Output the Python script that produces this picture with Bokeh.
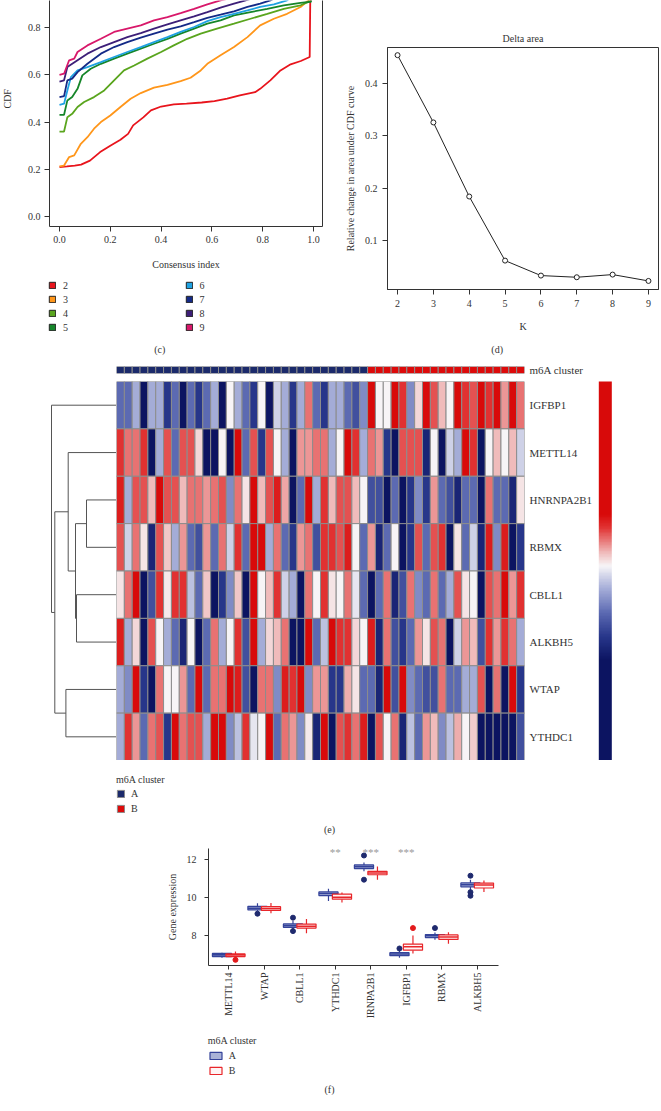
import math
from bokeh.plotting import figure
from bokeh.models import (Range1d, FactorRange, FixedTicker, PrintfTickFormatter, LinearAxis,
                          Legend, LegendItem, Label, ColorBar, LinearColorMapper, ColumnDataSource)
from bokeh.layouts import row, column
from bokeh.embed import file_html
from bokeh.resources import INLINE
from bokeh.core.properties import value

FONT = "Liberation Serif"
TXT = "#333333"
NAN = float("nan")

# ---------------- (c) consensus CDF ----------------
cdf_k = [2, 3, 4, 5, 6, 7, 8, 9]
cdf_colors = ["#e8141c", "#ff961a", "#5aa51e", "#16862a", "#1fa2e2", "#142a87", "#3d1f78", "#d8186a"]
cdf_x_k2 = [0.0, 0.03, 0.06, 0.085, 0.12, 0.16, 0.2, 0.24, 0.27, 0.29, 0.33, 0.36, 0.4, 0.45, 0.5, 0.56, 0.61, 0.66, 0.71, 0.77, 0.79, 0.83, 0.87, 0.91, 0.95, 0.985, 0.988, 1.0]
cdf_y_k2 = [0.209, 0.212, 0.216, 0.22, 0.237, 0.273, 0.30, 0.325, 0.35, 0.386, 0.42, 0.45, 0.466, 0.475, 0.478, 0.483, 0.489, 0.499, 0.513, 0.527, 0.541, 0.577, 0.619, 0.645, 0.659, 0.676, 1.0, 1.0]
cdf_x_k3 = [0.0, 0.018, 0.038, 0.058, 0.084, 0.11, 0.136, 0.163, 0.2, 0.24, 0.28, 0.32, 0.372, 0.425, 0.477, 0.516, 0.556, 0.582, 0.634, 0.687, 0.74, 0.79, 0.844, 0.896, 0.949, 0.98, 1.0]
cdf_y_k3 = [0.212, 0.216, 0.252, 0.259, 0.308, 0.336, 0.372, 0.40, 0.428, 0.464, 0.499, 0.523, 0.546, 0.558, 0.574, 0.588, 0.619, 0.647, 0.683, 0.718, 0.76, 0.81, 0.838, 0.859, 0.888, 0.916, 1.0]
cdf_x_k4 = [0.0, 0.018, 0.031, 0.05, 0.071, 0.097, 0.136, 0.176, 0.215, 0.254, 0.294, 0.346, 0.4, 0.45, 0.503, 0.556, 0.62, 0.687, 0.752, 0.818, 0.883, 0.949, 0.98, 1.0]
cdf_y_k4 = [0.36, 0.36, 0.421, 0.435, 0.464, 0.485, 0.506, 0.534, 0.577, 0.619, 0.64, 0.669, 0.697, 0.725, 0.753, 0.775, 0.796, 0.817, 0.838, 0.859, 0.88, 0.895, 0.909, 1.0]
cdf_x_k5 = [0.0, 0.018, 0.031, 0.05, 0.071, 0.09, 0.123, 0.163, 0.215, 0.267, 0.32, 0.372, 0.425, 0.477, 0.53, 0.582, 0.634, 0.687, 0.752, 0.818, 0.883, 0.949, 0.99, 1.0]
cdf_y_k5 = [0.431, 0.431, 0.492, 0.506, 0.541, 0.598, 0.626, 0.647, 0.669, 0.69, 0.711, 0.732, 0.753, 0.775, 0.796, 0.817, 0.831, 0.852, 0.866, 0.88, 0.895, 0.905, 0.91, 1.0]
cdf_x_k6 = [0.0, 0.018, 0.031, 0.045, 0.071, 0.11, 0.163, 0.215, 0.267, 0.32, 0.372, 0.425, 0.477, 0.53, 0.582, 0.634, 0.687, 0.74, 0.79, 0.844, 0.896, 1.0]
cdf_y_k6 = [0.473, 0.478, 0.534, 0.591, 0.619, 0.633, 0.654, 0.676, 0.697, 0.718, 0.739, 0.76, 0.782, 0.803, 0.828, 0.845, 0.859, 0.873, 0.888, 0.899, 0.916, 1.0]
cdf_x_k7 = [0.0, 0.018, 0.031, 0.05, 0.071, 0.11, 0.163, 0.215, 0.267, 0.32, 0.372, 0.425, 0.477, 0.53, 0.582, 0.634, 0.687, 0.74, 0.79, 0.83, 1.0]
cdf_y_k7 = [0.506, 0.51, 0.577, 0.584, 0.612, 0.647, 0.69, 0.718, 0.739, 0.758, 0.775, 0.792, 0.806, 0.824, 0.842, 0.855, 0.869, 0.888, 0.902, 0.916, 1.0]
cdf_x_k8 = [0.0, 0.018, 0.031, 0.071, 0.11, 0.163, 0.215, 0.267, 0.32, 0.372, 0.425, 0.477, 0.53, 0.582, 0.634, 0.687, 0.733, 1.0]
cdf_y_k8 = [0.572, 0.577, 0.633, 0.662, 0.69, 0.718, 0.739, 0.76, 0.777, 0.796, 0.814, 0.831, 0.848, 0.866, 0.885, 0.902, 0.916, 1.0]
cdf_x_k9 = [0.0, 0.018, 0.038, 0.058, 0.071, 0.11, 0.163, 0.215, 0.267, 0.32, 0.372, 0.425, 0.477, 0.53, 0.582, 0.634, 1.0]
cdf_y_k9 = [0.6, 0.605, 0.662, 0.669, 0.697, 0.725, 0.753, 0.782, 0.796, 0.81, 0.831, 0.845, 0.862, 0.88, 0.899, 0.916, 1.0]
cdf_xs = [cdf_x_k2, cdf_x_k3, cdf_x_k4, cdf_x_k5, cdf_x_k6, cdf_x_k7, cdf_x_k8, cdf_x_k9]
cdf_ys = [cdf_y_k2, cdf_y_k3, cdf_y_k4, cdf_y_k5, cdf_y_k6, cdf_y_k7, cdf_y_k8, cdf_y_k9]
cdf_xticks = [0.0, 0.2, 0.4, 0.6, 0.8, 1.0]
cdf_yticks = [0.0, 0.2, 0.4, 0.6, 0.8]

# ---------------- (d) delta area ----------------
delta_k = [2, 3, 4, 5, 6, 7, 8, 9]
delta_val = [0.453, 0.325, 0.184, 0.062, 0.0335, 0.0303, 0.0354, 0.0233]
delta_yticks = [0.1, 0.2, 0.3, 0.4]

# ---------------- (e) heatmap ----------------
heat_genes = ["IGFBP1", "METTL14", "HNRNPA2B1", "RBMX", "CBLL1", "ALKBH5", "WTAP", "YTHDC1"]
n_cluster_A = 32
n_cluster_B = 20
hm_IGFBP1 = [-2, -2, -1, -4, -1, -1, -3, -2, -4, -2, -3, -2, -1, -4, 0, -1, -2, -3, 0, -4, -0.5, -1, -3, -1, 2, -2,
             -3, -1, -1, -2, -2.5, -1.5, 4, 0, 0, 4, 3, -1.5, 0.5, 4, 2.5, 1, 0, 4, 3, 2.5, 4, 3, 4, 1.5, 4, 2]
hm_METTL14 = [3, 2, 2, 3, -4, -1, 2.5, -2, 2.5, 2.5, 0.5, -4, -4, 0, -4, 4, -2, 2.5, -3, 2.5, 0, -1, -4, 1.5, 1.5, 2,
              2, -1, 0, 4, 3, -1, 2, 1.5, -3, -4, 2.5, 2.5, 2.5, -3.5, 0, -4, -0.5, -1, 4, 3, -4, 0, 1, 0, 1, -0.5]
hm_HNRNPA2B1 = [3.5, -1, 2.5, 2.5, 1, 4, 2.5, 2.5, 1, 2, 2, 1.5, 2, 2.5, -1.5, 2, 0.3, 4, 1, 2.5, 3.5, 1.3, -4, -2, 4, -1,
                3, 1, 2.5, 2.5, 1, 0, -2.5, -2.5, -4, -2, -4, -3, -1.5, -3, 1.5, -2, -2.5, -3.5, -2, -2, -4, 2, -2, -2, -3.5, 0.3]
hm_RBMX = [2.5, -0.5, 2, 0.3, -3.5, 2.5, 0.8, -1, 1.5, -2, -2.5, 1.5, -2, 2, -0.5, 3, -2, 4, 4, -1, 2, -2, -3, 1.5, 2, -2.5,
           3, 3, 2.5, 3.5, 0, -2, 1.5, -3.5, -2, 0, -4, -3, 2.5, -2, 2.5, 3, -4, 0.3, -2, -0.5, -3.5, 3.5, -1.5, 3.5, -4, -3]
hm_CBLL1 = [0.3, 2, 4, -4, -2.5, 3, 0.2, 3, 3, -0.7, -2, 0.8, -4, -3, -1.5, 0.8, -4, 4, 0, 1, 3, -0.5, -1, -4, 2, 0,
            3, 0.3, 0, 2, -0.2, -2, -4, -2, 2, -3.5, -2.5, 2, -1.5, -2, 2, -2, -1, 2.5, 0.3, 0, -4, 2.5, 2, 4, 1.5, 3]
hm_ALKBH5 = [3.5, -1, 0.5, -4, 2.5, 0, -1, -2, -3.5, 0, -4, -2, 2, -1, 0, 3, -2.5, 4, -1, 0.5, 1, 2, -4, -4, 4, -2,
             -0.7, 4, 3, 3, 0.5, 0, 3.5, -3.5, 2, -2.5, -3, -2, 1.5, 0.3, 2.5, 2, -4, -0.5, 1.5, 1, -2.5, 3, 1.5, 3, 2, -1]
hm_WTAP = [-1, -1.5, 4, -3, -4, 2, 0, 0, 1.5, -2, 4, -2, 2, 2, 4, 3.5, -2.5, -4, 2, 2, -1.5, 3.5, 3, 4, -1.5, 1.5,
           1.5, -3, -3, 1.2, 0.3, -2, -2, -3.5, 4, -2.5, 4, -1.5, -2, -2.5, -2.5, 2, -2, -2, -1, -1, 2.5, -4, 2, -4, 4, -3]
hm_YTHDC1 = [-1, 3, 1.5, -2, 2, 2.5, -3, 4, 2, 2.5, 2.5, -1, 4, 4, -1.5, -0.7, 3, -0.2, 0, 4, -2, 2, 1.5, -1.5, 0.2, -3.5,
             4, -4, 2.5, 3, 2, 3.5, -4, 2.5, 0, 2, -3.5, -0.7, -2, 1.5, 1, -1.5, -0.7, 1.2, 0, 0.7, -4, -4, -4, -4, -4, -2.5]
heat_rows = [hm_IGFBP1, hm_METTL14, hm_HNRNPA2B1, hm_RBMX, hm_CBLL1, hm_ALKBH5, hm_WTAP, hm_YTHDC1]

# dendrogram (merge order; children are leaves or earlier merges "m<i>")
dend_left = ["HNRNPA2B1", "CBLL1", "m0", "METTL14", "WTAP", "m3", "IGFBP1"]
dend_right = ["RBMX", "ALKBH5", "m1", "m2", "YTHDC1", "m4", "m5"]
dend_height = [3.0, 4.0, 4.1, 4.83, 5.06, 6.17, 6.5]

# ---------------- (f) boxplot ----------------
box_genes = ["METTL14", "WTAP", "CBLL1", "YTHDC1", "IRNPA2B1", "IGFBP1", "RBMX", "ALKBH5"]
A_q1 = [6.86, 9.33, 8.41, 10.09, 11.52, 6.91, 7.87, 10.55]
A_med = [6.95, 9.42, 8.50, 10.20, 11.62, 7.00, 7.96, 10.66]
A_q3 = [7.03, 9.52, 8.59, 10.28, 11.71, 7.07, 8.03, 10.76]
A_lo = [6.80, 9.25, 8.30, 9.80, 11.38, 6.80, 7.75, 10.37]
A_hi = [7.07, 9.68, 8.75, 10.45, 11.84, 7.19, 8.14, 10.93]
A_out_gene = ["WTAP", "CBLL1", "CBLL1", "IRNPA2B1", "IRNPA2B1", "IGFBP1", "RBMX", "ALKBH5", "ALKBH5", "ALKBH5"]
A_out_val = [9.13, 8.92, 8.21, 12.21, 10.93, 7.29, 8.37, 11.14, 10.27, 10.08]
B_q1 = [6.86, 9.30, 8.37, 9.90, 11.19, 7.20, 7.77, 10.49]
B_med = [6.95, 9.40, 8.47, 10.00, 11.28, 7.38, 7.90, 10.65]
B_q3 = [7.00, 9.50, 8.58, 10.17, 11.37, 7.52, 8.01, 10.75]
B_lo = [6.78, 9.16, 8.10, 9.72, 10.93, 7.02, 7.54, 10.28]
B_hi = [7.13, 9.70, 8.85, 10.25, 11.63, 7.98, 8.15, 10.89]
B_out_gene = ["METTL14", "IGFBP1"]
B_out_val = [6.69, 8.37]
box_sig = ["", "", "", "**", "***", "***", "", ""]
box_yticks = [8, 10, 12]


# ================= helpers =================
def style_axis(ax, size="10px", tick_out=5, standoff=4):
    ax.major_label_text_font = FONT
    ax.major_label_text_font_size = size
    ax.major_label_text_color = TXT
    ax.axis_label_text_font = FONT
    ax.axis_label_text_font_size = size
    ax.axis_label_text_font_style = "normal"
    ax.axis_label_text_color = TXT
    ax.axis_line_color = TXT
    ax.major_tick_line_color = TXT
    ax.minor_tick_line_color = None
    ax.major_tick_out = tick_out
    ax.major_tick_in = 0
    ax.major_label_standoff = standoff


def make_fig(**kw):
    p = figure(output_backend="svg", toolbar_location=None, **kw)
    p.grid.visible = False
    p.outline_line_color = None
    p.background_fill_color = "white"
    p.border_fill_color = "white"
    try:
        p.frame_align = False
    except Exception:
        pass
    return p


def text_fig(x0, x1, y0, y1):
    """Blank panel whose frame covers the region x0..x1, y0..y1 of the figure (y downwards)."""
    return make_fig(width=int(round(x1 - x0)), height=int(round(y1 - y0)),
                    x_range=Range1d(x0, x1), y_range=Range1d(y1, y0),
                    min_border_left=0, min_border_right=0, min_border_top=0, min_border_bottom=0,
                    x_axis_location=None, y_axis_location=None, title=None)


def add_text(p, text, x, y, angle=0.0, size="10px", color=TXT):
    p.add_layout(Label(x=x, y=y, text=text, angle=angle,
                       text_font=FONT, text_font_size=size, text_color=color,
                       text_align="center", text_baseline="middle"))


def key(p, fill, line, lw=1.0):
    # legend key renderer (one undefined row: nothing drawn in the panel itself)
    return p.quad(left=[NAN], right=[NAN], top=[NAN], bottom=[NAN], fill_color=fill, line_color=line, line_width=lw)


def hex_rgb(h):
    h = h.lstrip("#")
    return tuple(int(h[i:i + 2], 16) for i in (0, 2, 4))


def lerp_color(levels, colors, v):
    if v <= levels[0]:
        return colors[0]
    if v >= levels[-1]:
        return colors[-1]
    for i in range(len(levels) - 1):
        if levels[i] <= v <= levels[i + 1]:
            f = (v - levels[i]) / (levels[i + 1] - levels[i])
            a, b = hex_rgb(colors[i]), hex_rgb(colors[i + 1])
            return "#%02x%02x%02x" % tuple(int(round(a[j] + (b[j] - a[j]) * f)) for j in range(3))


def style_legend(lg, size="10px"):
    lg.label_text_font = FONT
    lg.label_text_font_size = size
    lg.label_text_color = TXT
    lg.title_text_font = FONT
    lg.title_text_font_size = size
    lg.title_text_font_style = "normal"
    lg.title_text_color = TXT
    lg.border_line_color = None
    lg.background_fill_alpha = 0
    lg.padding = 0
    lg.margin = 0


# ================= (c) CDF =================
pA = make_fig(width=316, height=274, x_range=Range1d(-0.0393, 1.0354), y_range=Range1d(-0.0424, 0.9153),
              min_border_left=35, min_border_right=8, min_border_top=0, min_border_bottom=48)
for ax in pA.axis:
    style_axis(ax)
pA.xaxis.ticker = FixedTicker(ticks=cdf_xticks)
pA.yaxis.ticker = FixedTicker(ticks=cdf_yticks)
pA.xaxis.formatter = PrintfTickFormatter(format="%.1f")
pA.yaxis.formatter = PrintfTickFormatter(format="%.1f")
pA.xaxis.major_label_standoff = 4
pA.xaxis.axis_label = "Consensus index"
pA.xaxis.axis_label_standoff = 13
right_ax = LinearAxis(ticker=FixedTicker(ticks=[]), axis_line_color=TXT, major_tick_line_color=None,
                      minor_tick_line_color=None, major_label_text_font_size="0px")
pA.add_layout(right_ax, "right")
for xs, ys, col in zip(cdf_xs, cdf_ys, cdf_colors):
    pA.line(xs, ys, line_color=col, line_width=1.8)

# strip holding the y-axis title of (c)
pStrip = text_fig(0, 14, 0, 357)
add_text(pStrip, "CDF", 6.7, 98.3, angle=math.pi / 2)

# legend + panel letter below (c)
pAL = text_fig(14, 330, 274, 357)
swatch = [key(pAL, col, "#222222") for col in cdf_colors]
for half, vx in ((0, 33.9), (1, 170.5)):
    items = [LegendItem(label=str(cdf_k[i]), renderers=[swatch[i]]) for i in range(half * 4, half * 4 + 4)]
    lg = Legend(items=items, location=(vx, 24.2), orientation="vertical",
                glyph_width=8, glyph_height=8, label_height=8, label_width=10,
                label_standoff=7, spacing=3)
    style_legend(lg)
    pAL.add_layout(lg)
add_text(pAL, "(c)", 159.3, 349.3)

# ================= (d) Delta area =================
pB = make_fig(width=330, height=337, x_range=Range1d(1.72, 9.28), y_range=Range1d(0.007, 0.4676),
              min_border_left=57, min_border_right=2, min_border_top=47, min_border_bottom=48,
              title="Delta area")
pB.outline_line_color = TXT
pB.title.align = "center"
pB.title.text_font = FONT
pB.title.text_font_size = "10px"
pB.title.text_font_style = "normal"
pB.title.text_color = TXT
pB.title.standoff = 7
for ax in pB.axis:
    style_axis(ax, standoff=5)
pB.xaxis.ticker = FixedTicker(ticks=delta_k)
pB.yaxis.ticker = FixedTicker(ticks=delta_yticks)
pB.yaxis.formatter = PrintfTickFormatter(format="%.1f")
pB.xaxis.axis_label = "K"
pB.xaxis.axis_label_standoff = 11
pB.yaxis.axis_label = "Relative change in area under CDF curve"
pB.yaxis.axis_label_standoff = 6
pB.line(delta_k, delta_val, line_color="#222222", line_width=1)
pB.scatter(delta_k, delta_val, marker="circle", size=5, fill_color="white", line_color="#222222", line_width=1)

pBL = text_fig(330, 660, 337, 357)
add_text(pBL, "(d)", 496.7, 349.3)

# ================= (e) heatmap =================
n_cols = n_cluster_A + n_cluster_B
sample_cluster = ["A"] * n_cluster_A + ["B"] * n_cluster_B
cluster_color = {"A": "#1b2a6b", "B": "#dd0a0a"}

anchor_levels = [-4, -3, -2, -1, 0, 1, 2, 3, 4]
anchor_colors = ["#0c1461", "#27368a", "#5b69b2", "#a3abd7", "#f7f5f7", "#f0bcbc", "#e87474", "#e13232", "#d80a0a"]
heat_palette = [lerp_color(anchor_levels, anchor_colors, -4 + 8 * i / 255) for i in range(256)]
heat_mapper = LinearColorMapper(palette=heat_palette, low=-4, high=4)


def cbar_level(t):
    if t < 0.263:
        return -4
    if t < 0.514:
        return -4 + 4 * (t - 0.263) / (0.514 - 0.263)
    if t < 0.65:
        return 4 * (t - 0.514) / (0.65 - 0.514)
    return 4


cbar_palette = [lerp_color(anchor_levels, anchor_colors, cbar_level(i / 255)) for i in range(256)]
cbar_mapper = LinearColorMapper(palette=cbar_palette, low=0, high=1)

shared_x = Range1d(0, n_cols)

pAn = make_fig(width=537, height=20, x_range=shared_x, y_range=FactorRange(factors=["m6A cluster"]),
               min_border_left=0, min_border_right=129, min_border_top=9, min_border_bottom=4,
               x_axis_location=None, y_axis_location="right")
style_axis(pAn.yaxis[0], size="11px", tick_out=0, standoff=5)
pAn.yaxis.axis_line_color = None
pAn.yaxis.major_tick_line_color = None
pAn.rect(x=[i + 0.5 for i in range(n_cols)], y=["m6A cluster"] * n_cols, width=1, height=1,
         fill_color=[cluster_color[c] for c in sample_cluster], line_color="#8c8c8c", line_width=1)

hx, hy, hv = [], [], []
for g, vals in zip(heat_genes, heat_rows):
    for i, v in enumerate(vals):
        hx.append(i + 0.5)
        hy.append(g)
        hv.append(v)
heat_src = ColumnDataSource(dict(x=hx, gene=hy, v=hv))

pH = make_fig(width=537, height=383, x_range=shared_x, y_range=FactorRange(factors=heat_genes[::-1]),
              min_border_left=0, min_border_right=129, min_border_top=4, min_border_bottom=0,
              x_axis_location=None, y_axis_location="right")
style_axis(pH.yaxis[0], size="11px", tick_out=0, standoff=5)
pH.yaxis.axis_line_color = None
pH.yaxis.major_tick_line_color = None
pH.rect(x="x", y="gene", width=1, height=1, source=heat_src,
        fill_color={"field": "v", "transform": heat_mapper}, line_color="#8c8c8c", line_width=1)

cbar = ColorBar(color_mapper=cbar_mapper, location=(482.3, 0), width=13, height=379, padding=0, margin=0,
                ticker=FixedTicker(ticks=[]), major_label_text_font_size="0px", major_tick_line_color=None,
                minor_tick_line_color=None, bar_line_color=None, border_line_color=None,
                background_fill_alpha=0, label_standoff=0)
pH.add_layout(cbar)

pHL = text_fig(116, 653, 760, 838)
rA = key(pHL, cluster_color["A"], "#8c8c8c")
rB = key(pHL, cluster_color["B"], "#8c8c8c")
lgH = Legend(items=[LegendItem(label="A", renderers=[rA]), LegendItem(label="B", renderers=[rB])],
             location=(0, 24.5), title="m6A cluster", title_standoff=3,
             glyph_width=9, glyph_height=9, label_height=9, label_width=10, label_standoff=6, spacing=4)
style_legend(lgH)
pHL.add_layout(lgH)
add_text(pHL, "(e)", 329, 829.3)

# dendrogram
pos = {g: len(heat_genes) - 0.5 - i for i, g in enumerate(heat_genes)}
hgt = {g: 0.0 for g in heat_genes}
sx0, sy0, sx1, sy1 = [], [], [], []
for i, (l, r, h) in enumerate(zip(dend_left, dend_right, dend_height)):
    for c in (l, r):
        sx0.append(hgt[c]); sy0.append(pos[c]); sx1.append(h); sy1.append(pos[c])
    sx0.append(h); sy0.append(pos[l]); sx1.append(h); sy1.append(pos[r])
    pos["m%d" % i] = (pos[l] + pos[r]) / 2
    hgt["m%d" % i] = h

pD = make_fig(width=116, height=481, x_range=Range1d(11.6, 0), y_range=Range1d(0, len(heat_genes)),
              min_border_left=0, min_border_right=0, min_border_top=24, min_border_bottom=78,
              x_axis_location=None, y_axis_location=None)
pD.segment(x0=sx0, y0=sy0, x1=sx1, y1=sy1, line_color="#555555", line_width=1)

# ================= (f) boxplot =================
gidx = {g: i + 1 for i, g in enumerate(box_genes)}
pX = make_fig(width=653, height=192, x_range=Range1d(0.43, 8.6), y_range=Range1d(6.39, 12.58),
              min_border_left=208, min_border_right=155, min_border_top=10, min_border_bottom=65)
for ax in pX.axis:
    style_axis(ax, tick_out=4, standoff=8)
pX.yaxis.ticker = FixedTicker(ticks=box_yticks)
pX.yaxis.axis_label = "Gene expression"
pX.yaxis.axis_label_standoff = 6
pX.xaxis.ticker = FixedTicker(ticks=list(range(1, len(box_genes) + 1)))
pX.xaxis.major_label_overrides = {i + 1: g for i, g in enumerate(box_genes)}
pX.xaxis.major_label_orientation = math.pi / 2
pX.xaxis.major_label_standoff = 3

bw = 0.54
groups = [
    ("A", -0.19, A_q1, A_med, A_q3, A_lo, A_hi, A_out_gene, A_out_val, "#34439a", "#a9b2d7", "#1f2a6e"),
    ("B", 0.19, B_q1, B_med, B_q3, B_lo, B_hi, B_out_gene, B_out_val, "#e8262a", "#fff4f4", "#e31a1c"),
]
box_style = {}
for name, off, q1, med, q3, lo, hi, og, ov, lc, fc, oc in groups:
    xs = [gidx[g] + off for g in box_genes]
    pX.segment(x0=xs, y0=q3, x1=xs, y1=hi, line_color=lc, line_width=1.2)
    pX.segment(x0=xs, y0=q1, x1=xs, y1=lo, line_color=lc, line_width=1.2)
    pX.vbar(x=xs, top=q3, bottom=q1, width=bw, fill_color=fc, line_color=lc, line_width=1.2)
    pX.segment(x0=[x - bw / 2 for x in xs], y0=med, x1=[x + bw / 2 for x in xs], y1=med, line_color=lc, line_width=1.6)
    pX.scatter(x=[gidx[g] + off for g in og], y=ov, marker="circle", size=5, fill_color=oc, line_color=oc)
    box_style[name] = (lc, fc)

star_y = max(A_out_val + B_out_val + A_hi + B_hi) + 0.16
pX.text(x=list(range(1, len(box_genes) + 1)), y=[star_y] * len(box_genes), text=box_sig,
        text_font=value(FONT), text_font_size="11px", text_color="#999999",
        text_align="center", text_baseline="middle")

pXL = text_fig(0, 653, 1030, 1095)
kA = key(pXL, box_style["A"][1], box_style["A"][0], 1.2)
kB = key(pXL, box_style["B"][1], box_style["B"][0], 1.2)
lgX = Legend(items=[LegendItem(label="A", renderers=[kA]), LegendItem(label="B", renderers=[kB])],
             location=(207.8, 19.5), title="m6A cluster", title_standoff=4,
             glyph_width=15, glyph_height=9, label_height=9, label_width=10, label_standoff=6, spacing=4)
style_legend(lgX)
pXL.add_layout(lgX)
add_text(pXL, "(f)", 329, 1089)

layout = column(
    row(pStrip, column(pA, pAL, spacing=0), column(pB, pBL, spacing=0), spacing=0),
    row(pD, column(pAn, pH, pHL, spacing=0), spacing=0),
    column(pX, pXL, spacing=0),
    spacing=0,
)

with open("out.html", "w") as f:
    f.write(file_html(layout, INLINE))
